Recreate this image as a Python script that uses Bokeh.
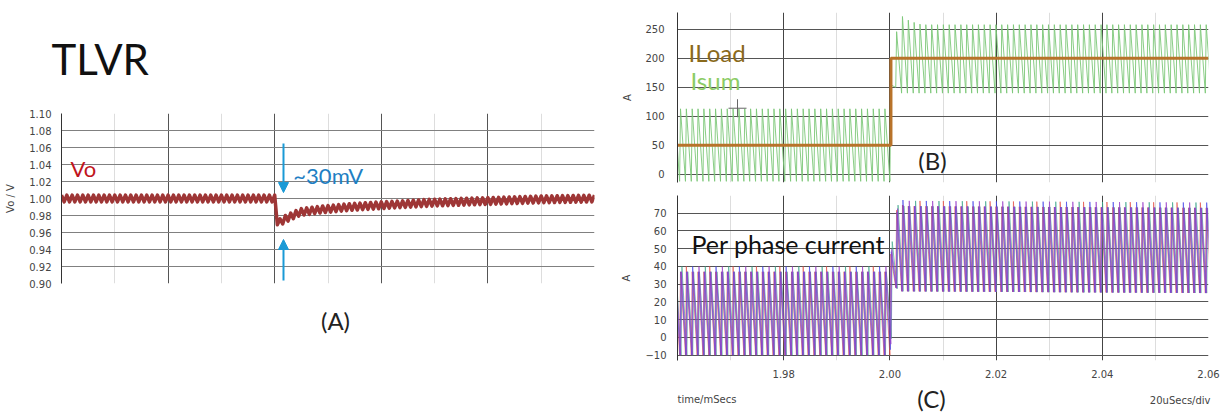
import numpy as np
from bokeh.plotting import figure
from bokeh.layouts import row, column
from bokeh.models import FixedTicker, Range1d, Label, Arrow, NormalHead
from bokeh.embed import file_html
from bokeh.resources import INLINE

# ---------------- Panel A : output voltage ----------------
vo_env_t = [0.0, 40.0, 40.5, 41.0, 42.0, 44.8, 48.6, 54.2, 59.8, 69.2, 79.7, 89.9, 100.0]
vo_env_v = [1.000, 1.000, 0.973, 0.972, 0.976, 0.984, 0.987, 0.990, 0.992, 0.995, 0.997, 0.999, 1.000]
vo_ripple = 0.004           # V, half peak-to-peak ripple
vo_period = 1.0             # ripple period (plot units)
vo_ticks = [0.90, 0.92, 0.94, 0.96, 0.98, 1.00, 1.02, 1.04, 1.06, 1.08, 1.10]
vo_tick_labels = ["0.90", "0.92", "0.94", "0.96", "0.98", "1.00", "1.02", "1.04", "1.06", "1.08", "1.10"]
a_major_x = [0, 20, 40, 60, 80, 100]
a_minor_x = [10, 30, 50, 70, 90]

# ---------------- Panel B : load current and summed current ----------------
t_major = [1.96, 1.98, 2.00, 2.02, 2.04, 2.06]
t_minor = [1.97, 1.99, 2.01, 2.03, 2.05]
t_labels = ["1.96", "1.98", "2.00", "2.02", "2.04", "2.06"]
iload_t = [1.96, 2.0002, 2.0002, 2.06]
iload_a = [50, 50, 200, 200]
isum_lo_t = [1.96, 2.0000, 2.0011, 2.0022, 2.06]
isum_lo = [-12, -12, 150, 140, 140]
isum_hi_t = [1.96, 1.9995, 2.0005, 2.0016, 2.0027, 2.0038, 2.0060, 2.06]
isum_hi = [113, 113, 175, 277, 270, 264, 258, 258]
b_ticks = [0, 50, 100, 150, 200, 250]
cursor_t = [1.9713]
cursor_a = [114]

# ---------------- Panel C : per phase currents ----------------
phase_colors = ["#3fa58a", "#e5534b", "#4747e8", "#9a3fc9"]
phase_shift = [0.00027, 0.0, 0.00009, 0.00018]   # ms
ph_lo_t = [1.96, 2.0000, 2.0011, 2.0022, 2.06]
ph_lo = [-10, -10, 28, 26, 25]
ph_hi_t = [1.96, 1.9995, 2.0005, 2.0016, 2.0027, 2.06]
ph_hi = [40, 40, 55, 79, 77, 76]
ph_spread = 3
c_ticks = [-10, 0, 10, 20, 30, 40, 50, 60, 70]

sw_period = 0.0011   # ms
sw_rise = 0.15

FONT = "DejaVu Sans"
BIG = "Lato"


def style_axis(ax, standoff, label_standoff):
    ax.axis_line_color = "#333333"
    ax.major_tick_line_color = None
    ax.minor_tick_line_color = None
    ax.major_label_text_font = FONT
    ax.major_label_text_font_size = "10px"
    ax.major_label_text_color = "#444444"
    ax.major_label_standoff = standoff
    ax.axis_label_text_font = FONT
    ax.axis_label_text_font_size = "10px"
    ax.axis_label_text_font_style = "normal"
    ax.axis_label_text_color = "#444444"
    ax.axis_label_standoff = label_standoff


def make_fig(w, h, xr, yr, ml, mr, mt, mb):
    p = figure(width=w, height=h, x_range=xr, y_range=yr, output_backend="svg",
               toolbar_location=None, min_border_left=ml, min_border_right=mr,
               min_border_top=mt, min_border_bottom=mb)
    p.outline_line_color = None
    p.background_fill_color = "white"
    p.border_fill_color = "white"
    try:
        p.frame_align = False
    except Exception:
        pass
    return p


def text_fig(w, h):
    # blank strip whose frame covers its whole area (pixel coordinates, y down)
    p = make_fig(w, h, Range1d(0, w), Range1d(h, 0), 0, 0, 0, 0)
    p.axis.visible = False
    p.grid.visible = False
    return p


def triangle(lo_t, lo_v, hi_t, hi_v, shift=0.0, owner=None, spread=0.0):
    n = np.arange(-40, 60)
    tv = 2.0 + n * sw_period + shift
    tp = tv + sw_rise * sw_period
    lo = np.interp(tv, lo_t, lo_v)
    hi = np.interp(tp, hi_t, hi_v)
    if owner is not None:
        hi = hi - np.where(n % 4 == owner, 0.0, spread)
    t = np.empty(2 * n.size)
    v = np.empty(2 * n.size)
    t[0::2], t[1::2] = tv, tp
    v[0::2], v[1::2] = lo, hi
    return t, v


# ======================= Panel A =======================
ta = text_fig(610, 104)
ta.add_layout(Label(x=51, y=58, text="TLVR", text_font=BIG, text_font_size="42px",
                    text_color="#111111", text_baseline="alphabetic"))

pa = make_fig(610, 188, Range1d(0, 100), Range1d(0.90, 1.10), 61, 16, 9, 9)
pa.xaxis.visible = False
pa.xaxis.ticker = FixedTicker(ticks=a_major_x, minor_ticks=a_minor_x)
pa.yaxis.ticker = FixedTicker(ticks=vo_ticks)
pa.yaxis.major_label_overrides = {t: s for t, s in zip(vo_ticks, vo_tick_labels)}
pa.yaxis.axis_label = "Vo / V"
style_axis(pa.yaxis[0], 4, 10)
pa.xgrid.grid_line_color = "#555555"
pa.xgrid.minor_grid_line_color = "#dddddd"
pa.ygrid.grid_line_color = "#808080"

tk = np.arange(0, 100.0001, vo_period / 2)
sign = np.where(np.arange(tk.size) % 2 == 0, 1.0, -1.0)
vo = np.interp(tk, vo_env_t, vo_env_v) + vo_ripple * sign
pa.line(tk, vo, line_color="#9e3636", line_width=3.5, line_join="round")

pa.add_layout(Label(x=1.69, y=1.0353, text="Vo", text_font=BIG, text_font_size="22px",
                    text_color="#c0141c", text_baseline="alphabetic"))
pa.add_layout(Label(x=43.5, y=1.027, text="~30mV", text_font=BIG, text_font_size="22px",
                    text_color="#1f7fc4", text_baseline="alphabetic"))
for ys, ye in [(1.0647, 1.007), (0.9035, 0.9518)]:
    pa.add_layout(Arrow(x_start=41.65, y_start=ys, x_end=41.65, y_end=ye,
                        line_color="#1a9ad6", line_width=2,
                        end=NormalHead(size=10, fill_color="#1a9ad6", line_color="#1a9ad6")))

ba = text_fig(610, 123)
ba.add_layout(Label(x=335, y=28, text="(A)", text_font=BIG, text_font_size="24px",
                    text_color="#222222", text_align="center", text_baseline="middle"))

# ======================= Panel B =======================
pb = make_fig(611, 190, Range1d(1.96, 2.06), Range1d(-14, 279), 67, 13, 12, 8)
pb.xaxis.visible = False
pb.xaxis.ticker = FixedTicker(ticks=t_major, minor_ticks=t_minor)
pb.yaxis.ticker = FixedTicker(ticks=b_ticks)
pb.yaxis.axis_label = "A"
style_axis(pb.yaxis[0], 7, 9)
pb.xgrid.grid_line_color = "#444444"
pb.xgrid.minor_grid_line_color = "#dddddd"
pb.ygrid.grid_line_color = "#555555"

ts, vs = triangle(isum_lo_t, isum_lo, isum_hi_t, isum_hi)
pb.line(ts, vs, line_color="#7cc878", line_width=1, line_alpha=0.9)
pb.line(iload_t, iload_a, line_color="#b8732a", line_width=3)
pb.scatter(cursor_t, cursor_a, marker="cross", size=18, line_color="#666666", line_width=1)

pb.add_layout(Label(x=1.96207, y=210, text="ILoad", text_font=BIG, text_font_size="24px",
                    text_color="#8a6a1c", text_baseline="alphabetic"))
pb.add_layout(Label(x=1.96245, y=162, text="Isum", text_font=BIG, text_font_size="24px",
                    text_color="#8ccc66", text_baseline="alphabetic"))
pb.add_layout(Label(x=2.00802, y=24, text="(B)", text_font=BIG, text_font_size="24px",
                    text_color="#222222", text_align="center", text_baseline="middle"))

# ======================= Panel C =======================
pc = make_fig(611, 190, Range1d(1.96, 2.06), Range1d(-13, 80), 67, 13, 5, 15)
pc.xaxis.ticker = FixedTicker(ticks=t_major[1:], minor_ticks=t_minor)
pc.xaxis.major_label_overrides = {t: s for t, s in zip(t_major[1:], t_labels[1:])}
pc.yaxis.ticker = FixedTicker(ticks=c_ticks)
pc.yaxis.axis_label = "A"
style_axis(pc.yaxis[0], 5, 10)
style_axis(pc.xaxis[0], 3, 0)
pc.xaxis.axis_line_color = None
pc.xgrid.grid_line_color = "#444444"
pc.xgrid.minor_grid_line_color = "#dddddd"
pc.ygrid.grid_line_color = "#555555"

for k, (col, sh) in enumerate(zip(phase_colors, phase_shift)):
    tp_, vp_ = triangle(ph_lo_t, ph_lo, ph_hi_t, ph_hi, shift=sh, owner=k, spread=ph_spread)
    pc.line(tp_, vp_, line_color=col, line_width=0.9, line_alpha=0.75)

pc.add_layout(Label(x=1.96264, y=52.5, text="Per phase current", text_font=BIG,
                    text_font_size="25px", text_color="#111111", text_baseline="alphabetic"))

bc = text_fig(611, 35)
bc.add_layout(Label(x=321, y=18, text="(C)", text_font=BIG, text_font_size="24px",
                    text_color="#222222", text_align="center", text_baseline="middle"))
bc.add_layout(Label(x=67, y=19, text="time/mSecs", text_font=FONT, text_font_size="10px",
                    text_color="#444444", text_baseline="middle"))
bc.add_layout(Label(x=600, y=20, text="20uSecs/div", text_font=FONT, text_font_size="10px",
                    text_color="#444444", text_align="right", text_baseline="middle"))

layout = row(column(ta, pa, ba), column(pb, pc, bc))
open("out.html", "w").write(file_html(layout, INLINE))
